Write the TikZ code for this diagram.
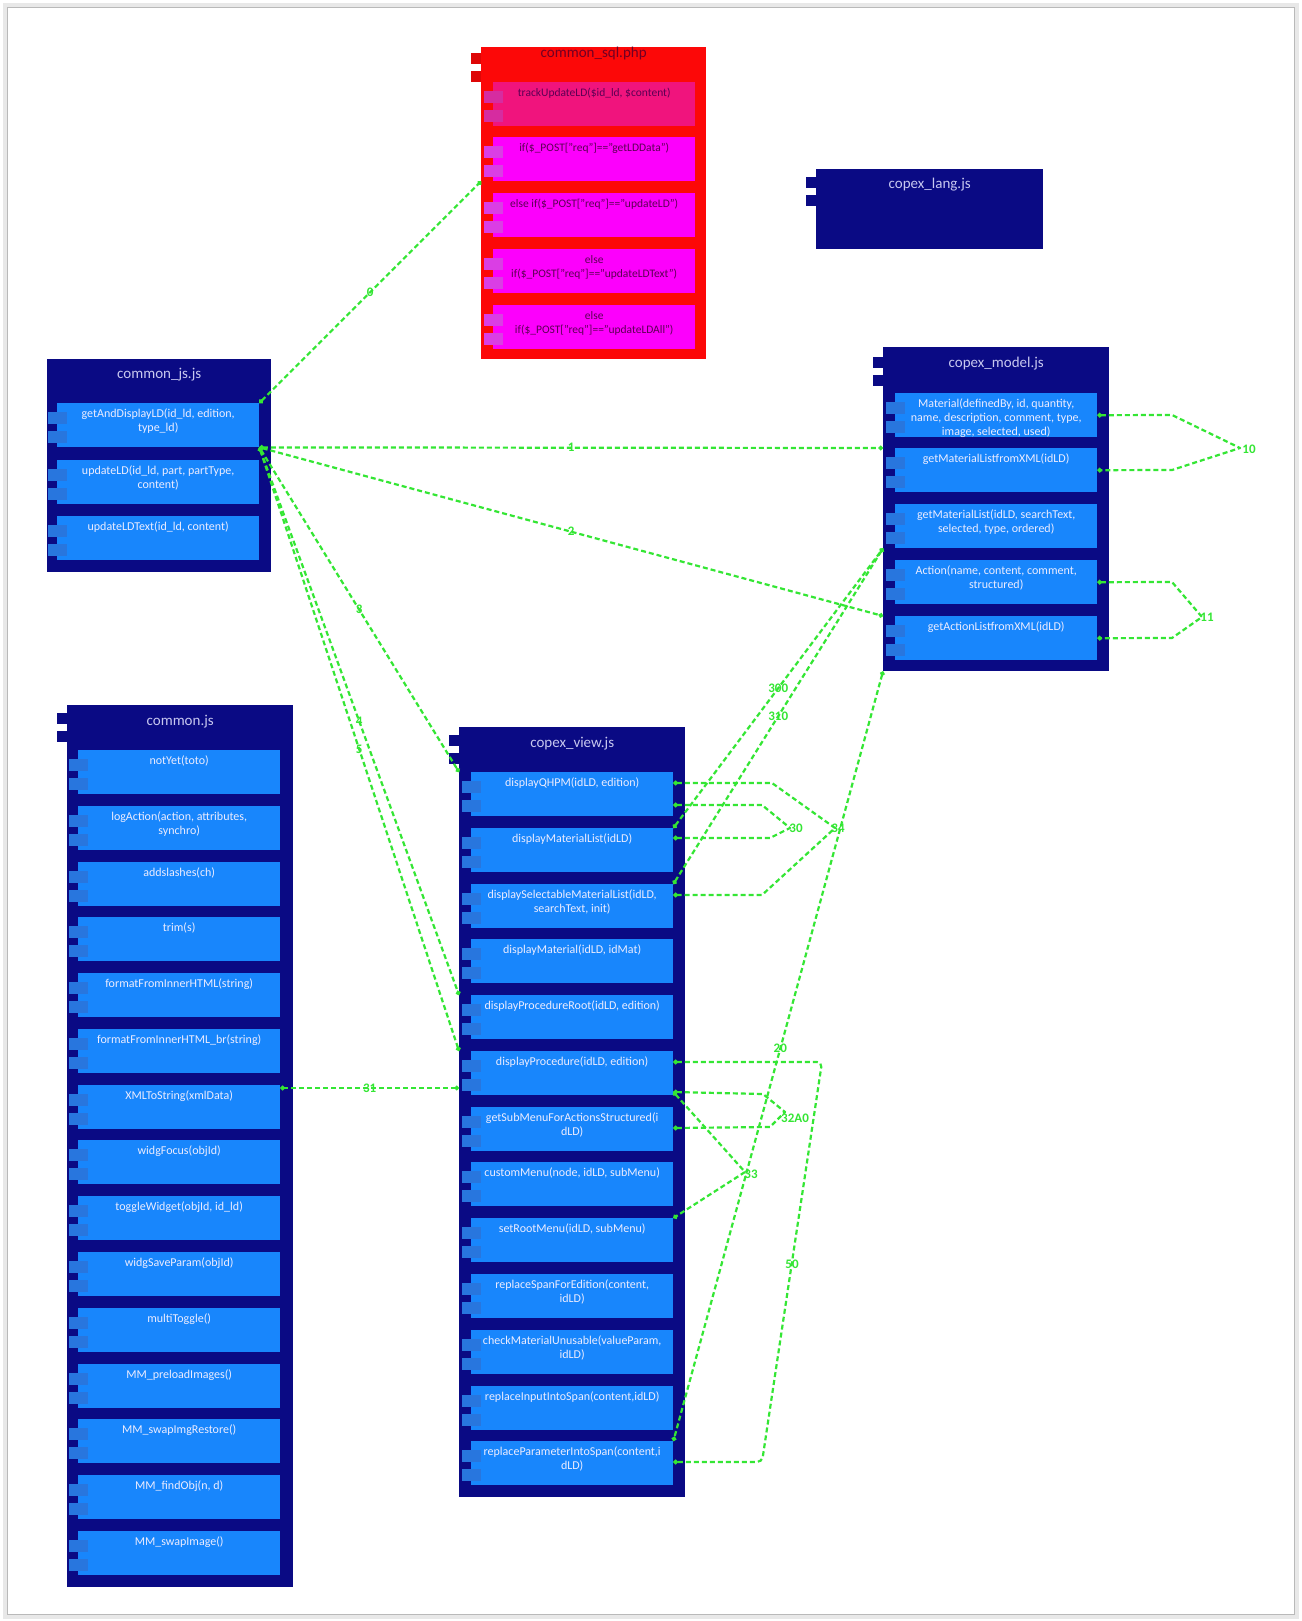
\documentclass[tikz,border=0pt]{standalone}
\usepackage{fontspec}
\setmainfont{Carlito}
\usetikzlibrary{arrows.meta}
\definecolor{navyc}{RGB}{10,10,132}
\definecolor{fnblue}{RGB}{24,134,252}
\definecolor{tabblue}{RGB}{40,118,222}
\definecolor{redc}{RGB}{252,8,8}
\definecolor{pinkc}{RGB}{240,20,125}
\definecolor{tabpink}{RGB}{214,44,160}
\definecolor{magc}{RGB}{252,0,252}
\definecolor{tabmag}{RGB}{218,62,228}
\definecolor{magtxt}{RGB}{92,0,84}
\definecolor{redtitle}{RGB}{112,0,36}
\definecolor{fntxt}{RGB}{236,236,255}
\definecolor{titletxt}{RGB}{200,200,240}
\definecolor{lgreen}{RGB}{52,230,52}
\newcommand{\fb}[5]{%
  \node[fn#4, anchor=north west] (#1) at (#2,#3) {};
  \fill[tab#4] (#2-9,#3+9) rectangle (#2+10,#3+21);
  \fill[tab#4] (#2-9,#3+28) rectangle (#2+10,#3+40);
  \node[tx#4, anchor=north] (#1t) at ([yshift=-6pt]#1.north) {#5};
}
\newcommand{\ctabs}[3]{%
  \fill[#3] (#1-10,#2+8) rectangle (#1+8,#2+19);
  \fill[#3] (#1-10,#2+26) rectangle (#1+8,#2+37);
}
\begin{document}
\begin{tikzpicture}[x=1pt,y=-1pt,
  outer/.style={fill=#1, draw=none, inner sep=0, anchor=north west},
  fnblue/.style={fill=fnblue, inner sep=0, minimum width=202, minimum height=44},
  fnpink/.style={fill=pinkc, inner sep=0, minimum width=202, minimum height=44},
  fnmag/.style={fill=magc, inner sep=0, minimum width=202, minimum height=44},
  tabblue/.style={fill=tabblue},
  tabpink/.style={fill=tabpink},
  tabmag/.style={fill=tabmag},
  txblue/.style={text=fntxt, align=center, inner sep=0, font=\fontsize{12}{14}\selectfont},
  txpink/.style={text=magtxt, align=center, inner sep=0, font=\fontsize{11.5}{14}\selectfont},
  txmag/.style={text=magtxt, align=center, inner sep=0, font=\fontsize{11.5}{14}\selectfont},
  title/.style={text=titletxt, inner sep=0, font=\fontsize{15}{16}\selectfont},
  conn/.style={draw=lgreen, line width=2.2pt, dash pattern=on 5pt off 3pt, line join=round,
    {Circle[length=4.5pt]}-{Circle[length=4.5pt]}},
  lbl/.style={text=lgreen, inner sep=0, font=\fontsize{13}{13}\selectfont\bfseries}]
\useasboundingbox (0,0) rectangle (1301,1621);
\fill[white] (0,0) rectangle (1301,1621);
\draw[gray!18, line width=5pt] (5,6) rectangle (1296,1616);
\draw[gray!55, line width=1pt] (7,8) rectangle (1294,1614);

% ---------- common_sql.php ----------
\ctabs{481}{45}{redc!88!black}
\node[outer=redc, minimum width=225, minimum height=312] (sql) at (481,47) {};
\node[title, text=redtitle] (sqlt) at ([yshift=-7pt]sql.north) {common\_sql.php};
\fb{sql1}{493}{82}{pink}{trackUpdateLD(\$id\_ld, \$content)}
\fb{sql2}{493}{137}{mag}{if(\$\_POST["req"]=="getLDData")}
\fb{sql3}{493}{193}{mag}{else if(\$\_POST["req"]=="updateLD")}
\fb{sql4}{493}{249}{mag}{else\\if(\$\_POST["req"]=="updateLDText")}
\fb{sql5}{493}{305}{mag}{else\\if(\$\_POST["req"]=="updateLDAll")}

% ---------- copex_lang.js ----------
\ctabs{816}{169}{navyc}
\node[outer=navyc, minimum width=227, minimum height=80] (lang) at (816,169) {};
\node[title] (langt) at ([yshift=-16pt]lang.north) {copex\_lang.js};

% ---------- common_js.js ----------
\node[outer=navyc, minimum width=224, minimum height=213] (cjs) at (47,359) {};
\node[title] (cjst) at ([yshift=-16pt]cjs.north) {common\_js.js};
\fb{cjs1}{57}{403}{blue}{getAndDisplayLD(id\_ld, edition,\\type\_ld)}
\fb{cjs2}{57}{460}{blue}{updateLD(id\_ld, part, partType,\\content)}
\fb{cjs3}{57}{516}{blue}{updateLDText(id\_ld, content)}

% ---------- copex_model.js ----------
\ctabs{883}{349}{navyc}
\node[outer=navyc, minimum width=226, minimum height=324] (model) at (883,347) {};
\node[title] (modelt) at ([yshift=-17pt]model.north) {copex\_model.js};
\fb{model1}{895}{393}{blue}{}
\begin{scope}
\clip (895,393) rectangle (1097,437);
\node[txblue, anchor=north] (model1x) at ([yshift=-6pt]model1.north) {Material(definedBy, id, quantity,\\name, description, comment, type,\\image, selected, used)};
\end{scope}
\fb{model2}{895}{448}{blue}{getMaterialListfromXML(idLD)}
\fb{model3}{895}{504}{blue}{getMaterialList(idLD, searchText,\\selected, type, ordered)}
\fb{model4}{895}{560}{blue}{Action(name, content, comment,\\structured)}
\fb{model5}{895}{616}{blue}{getActionListfromXML(idLD)}

% ---------- common.js ----------
\ctabs{67}{705}{navyc}
\node[outer=navyc, minimum width=226, minimum height=882] (common) at (67,705) {};
\node[title] (commont) at ([yshift=-17pt]common.north) {common.js};
\fb{common1}{78}{750}{blue}{notYet(toto)}
\fb{common2}{78}{806}{blue}{logAction(action, attributes,\\synchro)}
\fb{common3}{78}{862}{blue}{addslashes(ch)}
\fb{common4}{78}{917}{blue}{trim(s)}
\fb{common5}{78}{973}{blue}{formatFromInnerHTML(string)}
\fb{common6}{78}{1029}{blue}{formatFromInnerHTML\_br(string)}
\fb{common7}{78}{1085}{blue}{XMLToString(xmlData)}
\fb{common8}{78}{1140}{blue}{widgFocus(objId)}
\fb{common9}{78}{1196}{blue}{toggleWidget(objId, id\_ld)}
\fb{common10}{78}{1252}{blue}{widgSaveParam(objId)}
\fb{common11}{78}{1308}{blue}{multiToggle()}
\fb{common12}{78}{1364}{blue}{MM\_preloadImages()}
\fb{common13}{78}{1419}{blue}{MM\_swapImgRestore()}
\fb{common14}{78}{1475}{blue}{MM\_findObj(n, d)}
\fb{common15}{78}{1531}{blue}{MM\_swapImage()}

% ---------- copex_view.js ----------
\ctabs{459}{727}{navyc}
\node[outer=navyc, minimum width=226, minimum height=770] (view) at (459,727) {};
\node[title] (viewt) at ([yshift=-17pt]view.north) {copex\_view.js};
\fb{view1}{471}{772}{blue}{displayQHPM(idLD, edition)}
\fb{view2}{471}{828}{blue}{displayMaterialList(idLD)}
\fb{view3}{471}{884}{blue}{displaySelectableMaterialList(idLD,\\searchText, init)}
\fb{view4}{471}{939}{blue}{displayMaterial(idLD, idMat)}
\fb{view5}{471}{995}{blue}{displayProcedureRoot(idLD, edition)}
\fb{view6}{471}{1051}{blue}{displayProcedure(idLD, edition)}
\fb{view7}{471}{1107}{blue}{getSubMenuForActionsStructured(i\\dLD)}
\fb{view8}{471}{1162}{blue}{customMenu(node, idLD, subMenu)}
\fb{view9}{471}{1218}{blue}{setRootMenu(idLD, subMenu)}
\fb{view10}{471}{1274}{blue}{replaceSpanForEdition(content,\\idLD)}
\fb{view11}{471}{1330}{blue}{checkMaterialUnusable(valueParam,\\idLD)}
\fb{view12}{471}{1386}{blue}{replaceInputIntoSpan(content,idLD)}
\fb{view13}{471}{1441}{blue}{replaceParameterIntoSpan(content,i\\dLD)}

% ---------- connectors ----------
\coordinate (x31) at ([yshift=-3pt]common7.north east);
\draw[conn] (cjs1.north east) -- node[lbl]{0} (sql.west |- sql2.south);
\draw[conn] (cjs1.south east) -- node[lbl]{1} (model.west |- model2.north);
\draw[conn] (cjs1.south east) -- node[lbl]{2} (model.west |- model5.north);
\draw[conn] (cjs1.south east) -- node[lbl]{3} (view.west |- view1.north);
\draw[conn] (cjs1.south east) -- node[lbl]{4} (view.west |- view5.north);
\draw[conn] (cjs1.south east) -- node[lbl]{5} (view.west |- view6.north);
\draw[conn] (view.west |- x31) -- node[lbl]{31} (x31);
\draw[conn] (view2.north east) -- node[lbl]{300} (model.west |- model3.south);
\draw[conn] (view3.north east) -- node[lbl]{310} (model.west |- model3.south);
\draw[conn] (model.south west) -- node[lbl, pos=0.49]{20} (view13.north east);
% self loops copex_model
\draw[conn] (model1.east) -- (1172,415) -- (1240,448) -- (1172,470) -- (model2.east);
\node[lbl] (l10) at (1249,449) {10};
\draw[conn] (model4.east) -- (1172,582) -- (1202,617) -- (1172,638) -- (model5.east);
\node[lbl] (l11) at (1207,617) {11};
% self loops copex_view
\draw[conn] ([yshift=-33pt]view1.north east) -- (762,805) -- (790,828) -- (770,838) -- ([yshift=-10pt]view2.north east);
\node[lbl] (l30) at (796,828) {30};
\draw[conn] ([yshift=-11pt]view1.north east) -- (772,783) -- (835,828) -- (762,895) -- ([yshift=-11pt]view3.north east);
\node[lbl] (l34) at (838,828) {34};
\draw[conn, rounded corners=5pt] ([yshift=-11pt]view6.north east) -- (822,1062) -- (762,1462) -- ([yshift=-21pt]view13.north east);
\node[lbl] (l50) at (792,1264) {50};
\draw[conn] ([yshift=-41pt]view6.north east) -- (763,1094) -- (785,1112) -- (770,1127) -- ([yshift=-21pt]view7.north east);
\node[lbl] (l32) at (795,1118) {32A0};
\draw[conn] ([yshift=-41pt]view6.north east) -- (745,1172) -- (view9.north east);
\node[lbl] (l33) at (751,1174) {33};
\end{tikzpicture}
\end{document}
